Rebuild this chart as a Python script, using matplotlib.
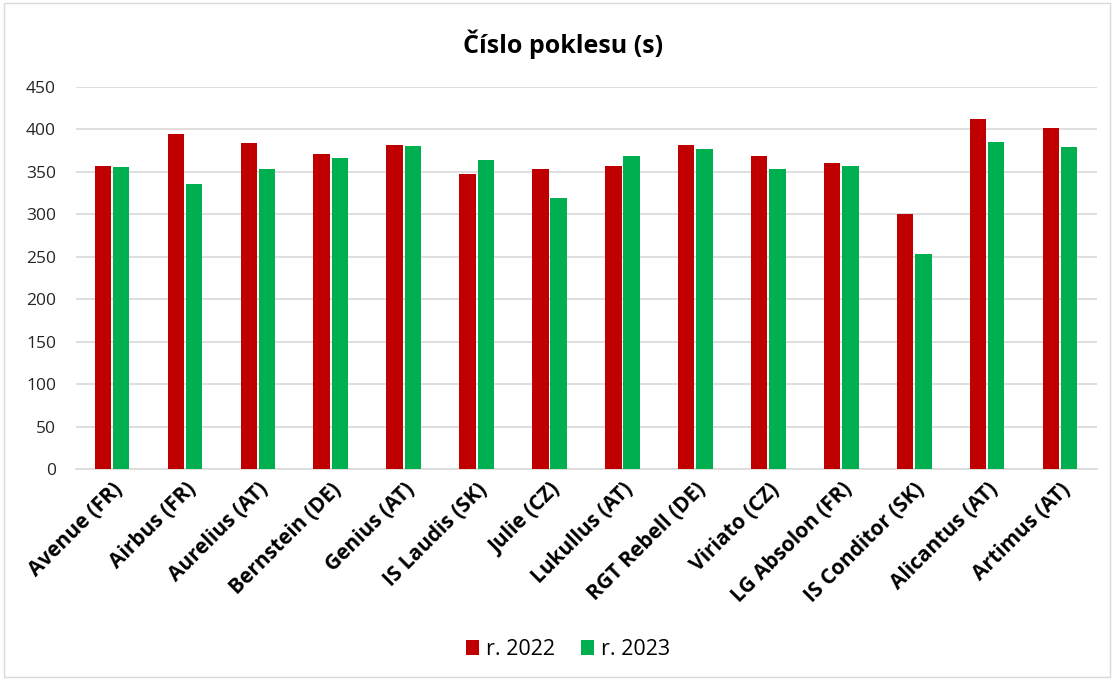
import numpy as np
import matplotlib.pyplot as plt
from matplotlib.patches import Rectangle

odrudy = ["Avenue (FR)", "Airbus (FR)", "Aurelius (AT)", "Bernstein (DE)", "Genius (AT)",
          "IS Laudis (SK)", "Julie (CZ)", "Lukullus (AT)", "RGT Rebell (DE)", "Viriato (CZ)",
          "LG Absolon (FR)", "IS Conditor (SK)", "Alicantus (AT)", "Artimus (AT)"]
r2022 = [357, 395, 384, 371, 382, 347, 354, 357, 382, 369, 361, 301, 412, 402]
r2023 = [356, 336, 354, 366, 381, 364, 319, 369, 377, 354, 357, 253, 385, 379]


def main():
    plt.rcParams['font.family'] = ['Open Sans', 'DejaVu Sans']
    fig = plt.figure(figsize=(11.14, 6.8), dpi=100)
    ax = fig.add_axes([0.0678, 0.3103, 0.9165, 0.5617])

    x = np.arange(len(odrudy))
    w = 0.225
    ax.bar(x - 0.125, r2022, w, color='#C00000', label='r. 2022', zorder=3)
    ax.bar(x + 0.125, r2023, w, color='#00B050', label='r. 2023', zorder=3)

    ax.set_xlim(-0.5, len(odrudy) - 0.5)
    ax.set_ylim(0, 450)
    ax.set_yticks(np.arange(0, 451, 50))
    ax.yaxis.grid(True, color='#d9d9d9', linewidth=1.2, zorder=0)
    for s in ['top', 'right', 'left']:
        ax.spines[s].set_visible(False)
    ax.spines['bottom'].set_color('#d9d9d9')
    ax.spines['bottom'].set_linewidth(1.2)
    ax.tick_params(axis='both', length=0)
    ax.tick_params(axis='y', labelsize=12.5, colors='#262626', pad=14)
    ax.set_xticks(x)
    ax.set_xticklabels(odrudy, rotation=45, ha='right', rotation_mode='anchor',
                       fontsize=15, fontweight='bold')
    ax.tick_params(axis='x', pad=7)

    fig.text(0.505, 0.935, 'Číslo poklesu (s)', ha='center', va='center',
             fontsize=18, fontweight='bold')

    ax.legend(loc='center', bbox_to_anchor=(0.51, 0.045), bbox_transform=fig.transFigure,
              ncol=2, frameon=False, fontsize=15.5, handlelength=0.6, handleheight=0.7,
              handletextpad=0.35, columnspacing=1.2)

    fig.patches.append(Rectangle((0.004, 0.004), 0.992, 0.992, transform=fig.transFigure,
                                 fill=False, edgecolor='#d9d9d9', linewidth=1))
    plt.savefig('out.png', dpi=100)


if __name__ == '__main__':
    main()
